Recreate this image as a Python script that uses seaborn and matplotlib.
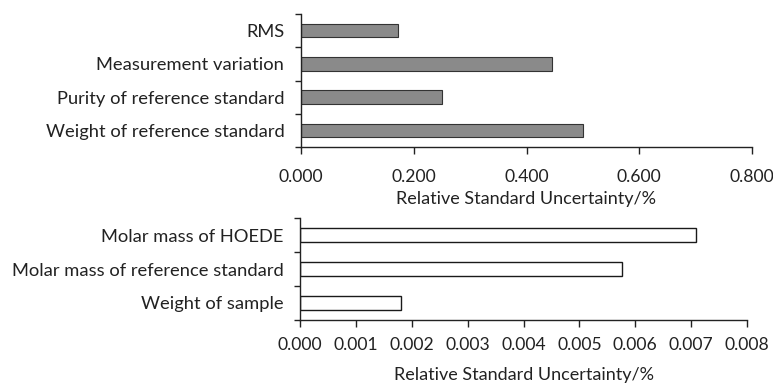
import matplotlib
matplotlib.use("Agg")
import matplotlib.pyplot as plt
import seaborn as sns
import pandas as pd
import numpy as np
from matplotlib.ticker import FixedLocator, FormatStrFormatter

sns.set_theme(style="white")
plt.rcParams['font.family'] = ['Lato', 'DejaVu Sans']

top_cats = ["RMS", "Measurement variation", "Purity of reference standard", "Weight of reference standard"]
top_vals = [0.172, 0.445, 0.250, 0.500]
top_ticks = [0.0, 0.2, 0.4, 0.6, 0.8]

bot_cats = ["Molar mass of HOEDE", "Molar mass of reference standard", "Weight of sample"]
bot_vals = [0.00709, 0.00576, 0.00181]
bot_ticks = [0.000, 0.001, 0.002, 0.003, 0.004, 0.005, 0.006, 0.007, 0.008]

xlabel = "Relative Standard Uncertainty/%"

W, H = 773, 388
fig = plt.figure(figsize=(W/100, H/100), dpi=100)

def ax_rect(x0, y0, x1, y1):
    return [x0/W, 1 - y1/H, (x1-x0)/W, (y1-y0)/H]

ax1 = fig.add_axes(ax_rect(301, 14, 752, 147))
ax2 = fig.add_axes(ax_rect(300, 218, 747, 320))

df1 = pd.DataFrame({"cat": top_cats, "val": top_vals})
df2 = pd.DataFrame({"cat": bot_cats, "val": bot_vals})

sns.barplot(data=df1, x="val", y="cat", orient="h", ax=ax1, color="#8a8a8a",
            edgecolor="#333333", linewidth=0.8, width=0.4, saturation=1)
sns.barplot(data=df2, x="val", y="cat", orient="h", ax=ax2, color="white",
            edgecolor="#1a1a1a", linewidth=1.0, width=0.4, saturation=1)

fs_y = 13.2
fs_x = 12.6
fs_lab = 13.0
for ax, ticks, n, xpad, lpad in [(ax1, top_ticks, len(top_cats), 10.5, 5),
                                 (ax2, bot_ticks, len(bot_cats), 7.5, 9.5)]:
    ax.set_xlim(ticks[0], ticks[-1])
    ax.set_ylim(n - 0.5, -0.5)
    ax.xaxis.set_major_locator(FixedLocator(ticks))
    ax.xaxis.set_major_formatter(FormatStrFormatter("%.3f"))
    ax.yaxis.set_minor_locator(FixedLocator(np.arange(-0.5, n, 1.0)))
    ax.tick_params(axis="y", which="major", length=0, pad=12, labelsize=fs_y, labelcolor="#222222")
    ax.tick_params(axis="y", which="minor", length=4, width=1, color="#222222", direction="out", left=True)
    ax.tick_params(axis="x", which="major", length=5, width=1, color="#222222", direction="out",
                   bottom=True, labelsize=fs_x, labelcolor="#222222", pad=xpad)
    for s in ["top", "right"]:
        ax.spines[s].set_visible(False)
    for s in ["left", "bottom"]:
        ax.spines[s].set_color("#222222")
        ax.spines[s].set_linewidth(1.0)
    ax.set_ylabel("")
    ax.set_xlabel(xlabel, fontsize=fs_lab, color="#222222", labelpad=lpad)

fig.savefig("out.png", dpi=100)
